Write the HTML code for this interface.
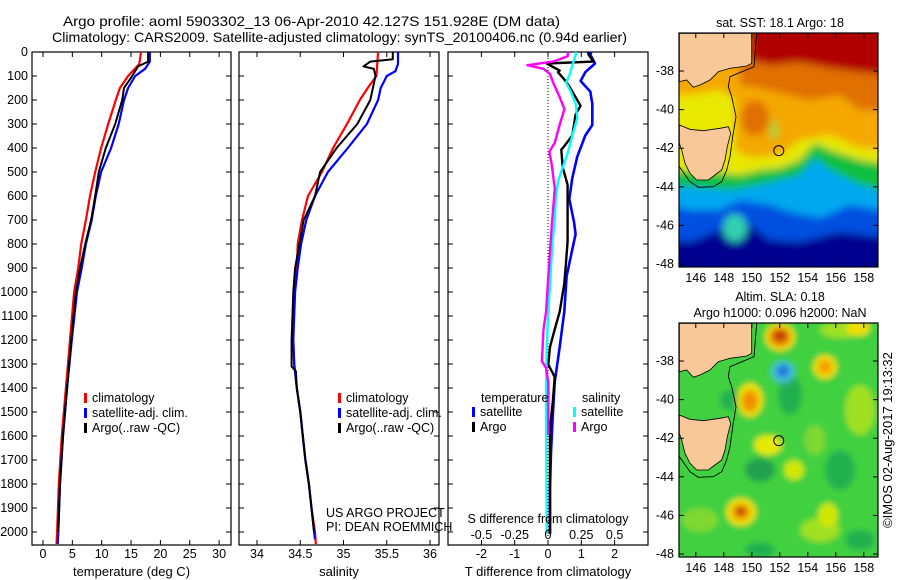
<!DOCTYPE html>
<html><head><meta charset="utf-8">
<style>
html,body{margin:0;padding:0;background:#fff;}
svg{display:block;font-family:"Liberation Sans",sans-serif;}
text{font-size:12px;fill:#000;}
</style></head>
<body>
<svg id="fig" width="900" height="580" viewBox="0 0 900 580" xmlns="http://www.w3.org/2000/svg">
<defs>
<filter id="blur" x="-10%" y="-10%" width="120%" height="120%"><feGaussianBlur stdDeviation="4"/></filter>
<filter id="blur2" x="-50%" y="-50%" width="200%" height="200%"><feGaussianBlur stdDeviation="3"/></filter>
<clipPath id="c1"><rect x="679" y="33" width="199" height="234"/></clipPath>
<clipPath id="c2"><rect x="679" y="323" width="199" height="234"/></clipPath>
<clipPath id="cp1"><rect x="32" y="52" width="199" height="493"/></clipPath>
<clipPath id="cp2"><rect x="239" y="52" width="200" height="493"/></clipPath>
<clipPath id="cp3"><rect x="448" y="52" width="200" height="493"/></clipPath>
</defs>
<text x="63" y="26" textLength="497" lengthAdjust="spacingAndGlyphs" style="font-size:14px">Argo profile: aoml 5903302_13 06-Apr-2010 42.127S 151.928E (DM data)</text>
<text x="52" y="42" textLength="575" lengthAdjust="spacingAndGlyphs" style="font-size:14px">Climatology: CARS2009. Satellite-adjusted climatology: synTS_20100406.nc (0.94d earlier)</text>
<g id="g1"></g>
<g id="g2"></g>
<g id="g3"></g>
<g id="m1"></g>
<g id="m2"></g>
<text x="0" y="0" transform="translate(892,440) rotate(-90)" text-anchor="middle" style="font-size:13px">©IMOS 02-Aug-2017 19:13:32</text>
</svg>
<script>
// ---- data ----
const tDepthRed=[0,50,100,150,200,300,400,500,600,700,800,900,1000,1200,1400,1600,1800,2000,2050];
const tRed=[16.7,16.4,14.5,13.1,12.4,11.1,9.9,8.9,8.0,7.3,6.5,6.0,5.3,4.6,3.9,3.2,2.7,2.4,2.3];
const tDepthBlue=[0,40,70,100,150,200,300,400,500,600,700,800,900,1000,1200,1400,1600,1800,2000,2050];
const tBlue=[18.2,18.2,17.4,15.7,14.5,13.8,12.9,11.6,9.9,9.0,8.3,7.3,6.6,5.8,4.9,4.1,3.4,2.9,2.6,2.5];
const tDepthArgo=[0,40,60,100,150,200,300,400,500,600,700,800,900,1000,1200,1400,1600,1800,2000];
const tArgo=[17.9,17.9,16.2,15.2,13.8,13.5,12.3,10.7,9.5,8.9,8.2,7.2,6.3,5.6,4.8,4.1,3.4,2.9,2.6];

const sDepthRed=[0,100,150,200,300,400,500,600,700,800,900,1000,1100,1200,1300,1400,1500,1600,1700,1800,1900,2000,2050];
const sRed=[35.40,35.38,35.28,35.19,35.04,34.88,34.75,34.59,34.52,34.47,34.46,34.43,34.42,34.42,34.43,34.46,34.50,34.53,34.56,34.60,34.63,34.67,34.68];
const sDepthBlue=[0,50,80,100,150,200,300,400,500,600,700,800,900,1000,1100,1200,1300,1400,1500,1600,1700,1800,1900,2000,2030];
const sBlue=[35.63,35.63,35.60,35.50,35.43,35.40,35.27,35.05,34.82,34.67,34.57,34.51,34.47,34.44,34.43,34.42,34.43,34.46,34.50,34.53,34.56,34.60,34.63,34.66,34.67];
const sDepthArgo=[0,30,40,60,70,100,200,300,400,500,600,700,800,900,1000,1200,1310,1330,1400,1500,1600,1700,1800,1900,2000];
const sArgo=[35.57,35.57,35.31,35.23,35.35,35.37,35.31,35.16,34.92,34.73,34.67,34.54,34.49,34.44,34.42,34.40,34.40,34.45,34.46,34.50,34.53,34.56,34.60,34.63,34.66];

const dDepthTsat=[0,11,48,84,121,165,216,304,348,436,525,613,708,759,848,935,1082,1229,1376,1522,1669,1816,2007];
const dTsat=[1.3,1.27,1.41,1.12,0.98,1.27,1.33,1.33,1.12,0.88,0.73,0.64,0.78,0.83,0.69,0.56,0.49,0.35,0.2,0.14,0.09,0.06,0.06];
const dDepthTargo=[0,11,40,48,62,77,84,114,143,224,260,348,392,407,480,554,642,789,877,965,1082,1156,1229,1302,1354,1449,1567,2007];
const dTargo=[1.2,1.22,1.36,-0.04,0.15,0.35,0.30,0.49,0.64,0.98,0.83,0.73,0.49,0.40,0.44,0.59,0.59,0.59,0.54,0.49,0.35,0.2,0.06,0.01,0.2,0.15,0.06,0.06];
const dDepthSsat=[0,11,55,99,128,165,216,275,348,422,480,539,613,700,789,935,1082,1229,1376,1522,2007];
const dSsat=[0.21,0.208,0.183,0.159,0.135,0.171,0.208,0.220,0.183,0.147,0.111,0.075,0.058,0.051,0.034,0.019,0.002,-0.01,-0.014,-0.014,-0.01];
const dDepthSargo=[0,18,40,55,70,91,128,187,238,304,378,415,466,569,730,935,1082,1156,1288,1317,1376,1596];
const dSargo=[0.15,0.147,0.039,-0.155,-0.034,0.014,0.039,0.087,0.123,0.087,0.051,0.01,0.027,0.051,0.027,0.002,-0.014,-0.034,-0.046,-0.014,0.002,0.002];

const depthTicks=[0,100,200,300,400,500,600,700,800,900,1000,1100,1200,1300,1400,1500,1600,1700,1800,1900,2000];
const tTicks=[0,5,10,15,20,25,30];
const sTicks=[34,34.5,35,35.5,36];
const sTickLabels=["34","34.5","35","35.5","36"];
const dtTicks=[-2,-1,0,1,2];
const dsTicks=[-0.5,-0.25,0,0.25,0.5];
const dsTickLabels=["-0.5","-0.25","0","0.25","0.5"];
const latTicks=[-38,-40,-42,-44,-46,-48];
const lonTicks=[146,148,150,152,154,156,158];
const argoLon=151.928, argoLat=-42.127;

// ---- helpers ----
const NS="http://www.w3.org/2000/svg";
function mk(parent,tag,attrs,txt){const e=document.createElementNS(NS,tag);for(const k in attrs)e.setAttribute(k,attrs[k]);if(txt!==undefined)e.textContent=txt;parent.appendChild(e);return e;}
const Y=d=>52+d*0.24;
const xT=v=>43+v*5.87;
const xS=v=>257+(v-34)*86.5;
const xDT=v=>548+v*33.3;
const xDS=v=>548+v*133.2;

function panelFrame(g,x0,x1,xt,ticks,labels,title,showDepth){
  const top=52,bot=545;
  const r=mk(g,'rect',{x:x0,y:top,width:x1-x0,height:bot-top,fill:'none',stroke:'#000','stroke-width':1.2});
  
  
  depthTicks.forEach(d=>{
    const y=Y(d);
    mk(g,'line',{x1:x0,x2:x0+5,y1:y,y2:y,stroke:'#000'});
    mk(g,'line',{x1:x1-5,x2:x1,y1:y,y2:y,stroke:'#000'});
    if(showDepth){const t=mk(g,'text',{x:28,y:y+4,'text-anchor':'end',style:'font-size:12.5px'},String(d));
      
      }
  });
  ticks.forEach((v,i)=>{
    const x=xt(v);
    mk(g,'line',{x1:x,x2:x,y1:top,y2:top+5,stroke:'#000'});
    mk(g,'line',{x1:x,x2:x,y1:bot-5,y2:bot,stroke:'#000'});
    const t=mk(g,'text',{x:x,y:558,'text-anchor':'middle',style:'font-size:12.5px'},labels?labels[i]:String(v));
    
    
  });
  const tt=mk(g,'text',{x:(x0+x1)/2,y:576,'text-anchor':'middle',style:'font-size:13px'},title);
  
  
}
function line(g,clip,xs,ds,xf,color,w,name){
  const pts=xs.map((v,i)=>xf(v).toFixed(1)+','+Y(ds[i]).toFixed(1)).join(' ');
  const p=mk(g,'polyline',{points:pts,fill:'none',stroke:color,'stroke-width':w,'clip-path':'url(#'+clip+')','stroke-linejoin':'round'});
  
  
}
function legend(g,x,y0,items){
  items.forEach((it,i)=>{
    const y=y0+i*15;
    mk(g,'rect',{x:x,y:y-5,width:3,height:10,fill:it[1]});
    const t=mk(g,'text',{x:x+8,y:y+4,style:'font-size:12.5px'},it[0]);
    
    
  });
}

// ---- panel 1 ----
const g1=document.getElementById('g1');
panelFrame(g1,32,231,xT,tTicks,null,'temperature (deg C)',true);
line(g1,'cp1',tRed,tDepthRed,xT,'#ff0000',2.2,'temp-climatology-line');
line(g1,'cp1',tBlue,tDepthBlue,xT,'#0000ff',2.2,'temp-satellite-line');
line(g1,'cp1',tArgo,tDepthArgo,xT,'#000',2,'temp-argo-line');
legend(g1,84,398,[['climatology','#ff0000'],['satellite-adj. clim.','#0000ff'],['Argo(..raw -QC)','#000']]);

// ---- panel 2 ----
const g2=document.getElementById('g2');
panelFrame(g2,239,439,xS,sTicks,sTickLabels,'salinity',false);
line(g2,'cp2',sRed,sDepthRed,xS,'#ff0000',2.2,'sal-climatology-line');
line(g2,'cp2',sBlue,sDepthBlue,xS,'#0000ff',2.2,'sal-satellite-line');
line(g2,'cp2',sArgo,sDepthArgo,xS,'#000',2,'sal-argo-line');
legend(g2,338,398,[['climatology','#ff0000'],['satellite-adj. clim.','#0000ff'],['Argo(..raw -QC)','#000']]);
mk(g2,'text',{x:326,y:517,style:'font-size:12.5px'},'US ARGO PROJECT');
mk(g2,'text',{x:326,y:531,style:'font-size:12.5px'},'PI: DEAN ROEMMICH');

// ---- panel 3 ----
const g3=document.getElementById('g3');
panelFrame(g3,448,648,xDT,dtTicks,null,'T difference from climatology',false);
mk(g3,'line',{x1:548,x2:548,y1:52,y2:545,stroke:'#000','stroke-dasharray':'1,2'});
line(g3,'cp3',dTsat,dDepthTsat,xDT,'#0000ff',2.6,'dT-satellite-line');
line(g3,'cp3',dTargo,dDepthTargo,xDT,'#000',2.4,'dT-argo-line');
line(g3,'cp3',dSsat,dDepthSsat,xDS,'#00ffff',2.4,'dS-satellite-line');
line(g3,'cp3',dSargo,dDepthSargo,xDS,'#ff00ff',2.4,'dS-argo-line');
mk(g3,'text',{x:481,y:402,style:'font-size:12.5px'},'temperature');
mk(g3,'text',{x:582,y:402,style:'font-size:12.5px'},'salinity');
legend(g3,472,412,[['satellite','#0000ff'],['Argo','#000']]);
legend(g3,573,412,[['satellite','#00ffff'],['Argo','#ff00ff']]);
mk(g3,'text',{x:548,y:523,'text-anchor':'middle',style:'font-size:12.5px'},'S difference from climatology');
dsTicks.forEach((v,i)=>{const t=mk(g3,'text',{x:xDS(v),y:539,'text-anchor':'middle',style:'font-size:12.5px'},dsTickLabels[i]);
  
  });

// ---- maps ----
function mapFrame(g,top,titleLines){
  const x0=679,x1=878,bot=top+234;
  const lonX=l=>679+(l-144.8)*14;
  const latY=a=>top+(-36.03-a)*19.3;
  latTicks.forEach(a=>{const y=latY(a);
    mk(g,'line',{x1:x0,x2:x0+5,y1:y,y2:y,stroke:'#000'});
    mk(g,'line',{x1:x1-5,x2:x1,y1:y,y2:y,stroke:'#000'});
    const t=mk(g,'text',{x:674,y:y+4,'text-anchor':'end',style:'font-size:12.5px'},String(a));
    
    });
  lonTicks.forEach(l=>{const x=lonX(l);
    mk(g,'line',{x1:x,x2:x,y1:top,y2:top+5,stroke:'#000'});
    mk(g,'line',{x1:x,x2:x,y1:bot-5,y2:bot,stroke:'#000'});
    const t=mk(g,'text',{x:x,y:bot+15,'text-anchor':'middle',style:'font-size:12.5px'},String(l));
    
    });
  mk(g,'rect',{x:x0,y:top,width:x1-x0,height:234,fill:'none',stroke:'#000','stroke-width':1.2});
  titleLines.forEach((s,i)=>{const t=mk(g,'text',{x:780,y:top-6-(titleLines.length-1-i)*16,'text-anchor':'middle',style:'font-size:12.5px'},s);
    
    });
  const c=mk(g,'circle',{cx:lonX(argoLon),cy:latY(argoLat),r:5,fill:'none',stroke:'#000','stroke-width':1});
  
  
}
function land(g,dy){
  const P=(pts)=>pts.map(p=>(650+p[0]/3).toFixed(1)+','+(dy+p[1]/3).toFixed(1)).join(' ');
  const main=[[88,100],[305,100],[305,190],[290,198],[240,205],[205,215],[180,240],[150,255],[130,262],[110,240],[88,245]];
  const tas=[[88,375],[120,388],[160,392],[210,385],[235,380],[242,400],[232,440],[225,480],[215,510],[195,525],[175,540],[140,540],[120,520],[105,490],[95,450],[88,430]];
  const a=mk(g,'polygon',{points:P(main),fill:'#f8c898',stroke:'#000','stroke-width':0.8});
  
  
  const b=mk(g,'polygon',{points:P(tas),fill:'#f8c898',stroke:'#000','stroke-width':0.8});
  
  
  const shelf=[[320,100],[312,200],[240,230],[235,260],[245,290],[258,350],[248,410],[240,470],[230,510],[215,545],[190,560],[145,562],[120,545],[95,510],[88,500]];
  mk(g,'polyline',{points:P(shelf),fill:'none',stroke:'#000','stroke-width':0.9});
}
// SST map
const m1=document.getElementById('m1');
const s1=mk(m1,'g',{'clip-path':'url(#c1)'});
const b1=mk(s1,'g',{filter:'url(#blur)'});
mk(b1,'rect',{x:670,y:20,width:220,height:260,fill:'#000090'});
mk(b1,'polygon',{points:'670,20 890,20 890,238 840,232 800,242 770,240 750,225 720,230 690,242 670,240',fill:'#0050e0'});
mk(b1,'polygon',{points:'670,20 890,20 890,212 850,205 820,218 790,212 770,205 740,200 720,210 690,210 670,205',fill:'#00a8f0'});
mk(b1,'ellipse',{cx:735,cy:228,rx:12,ry:14,fill:'#30d0b0'});
mk(b1,'polygon',{points:'670,20 890,20 890,192 860,185 830,170 815,158 800,175 780,180 760,185 730,190 700,188 670,185',fill:'#10c040'});
mk(b1,'polygon',{points:'670,20 890,20 890,165 860,160 830,150 815,143 800,160 780,168 760,170 740,175 710,172 670,170',fill:'#e8e800'});
mk(b1,'polygon',{points:'670,20 890,20 890,150 860,148 830,135 800,140 780,155 750,158 735,150 735,100 720,90 690,95 670,95',fill:'#f4a800'});
mk(b1,'ellipse',{cx:755,cy:118,rx:14,ry:18,fill:'#e07000'});
mk(b1,'polygon',{points:'740,20 890,20 890,110 860,110 840,95 810,100 790,95 760,88 740,85',fill:'#e07000'});
mk(b1,'polygon',{points:'750,20 890,20 890,75 860,72 830,68 800,62 770,65 750,60',fill:'#b00000'});
mk(b1,'ellipse',{cx:774,cy:130,rx:3,ry:9,fill:'#70e040'});
land(s1,0);
mapFrame(m1,33,['sat. SST: 18.1 Argo: 18']);
// SLA map
const m2=document.getElementById('m2');
const s2=mk(m2,'g',{'clip-path':'url(#c2)'});
const b2=mk(s2,'g',{filter:'url(#blur2)'});
mk(b2,'rect',{x:670,y:315,width:220,height:250,fill:'#40d040'});
[[700,350,20,15,'#20b050'],[860,410,15,25,'#a0e020'],[815,440,10,15,'#80d830'],[840,470,15,20,'#20b050'],[760,470,15,12,'#20a050'],[700,520,18,12,'#80d830'],[820,530,20,12,'#a0e020'],[860,540,15,10,'#20b050'],[730,400,10,10,'#20b050'],[790,395,12,20,'#20b050'],[760,550,15,8,'#20b050'],[840,330,20,8,'#a0e020']].forEach(e=>mk(b2,'ellipse',{cx:e[0],cy:e[1],rx:e[2],ry:e[3],fill:e[4]}));
[[780,337,15,14,'#f0e000'],[780,337,11,10,'#f09000'],[780,336,7,6,'#c04000'],
 [783,372,12,11,'#40c0d0'],[783,371,6,6,'#2070e0'],
 [750,400,13,17,'#f0e000'],[750,401,8,11,'#f09000'],
 [825,367,12,12,'#f0e000'],[825,367,7,7,'#f0a000'],
 [768,445,14,10,'#e8e800'],[794,470,10,10,'#d0e800'],
 [741,512,15,14,'#f0e000'],[741,512,9,8,'#f09000'],[741,511,5,5,'#c05000'],
 [858,328,12,8,'#f0e000'],[828,515,10,12,'#d0e800']].forEach(e=>mk(b2,'ellipse',{cx:e[0],cy:e[1],rx:e[2],ry:e[3],fill:e[4]}));
land(s2,290);
mapFrame(m2,323,['Altim. SLA: 0.18','Argo h1000: 0.096 h2000: NaN']);
</script>
</body></html>
